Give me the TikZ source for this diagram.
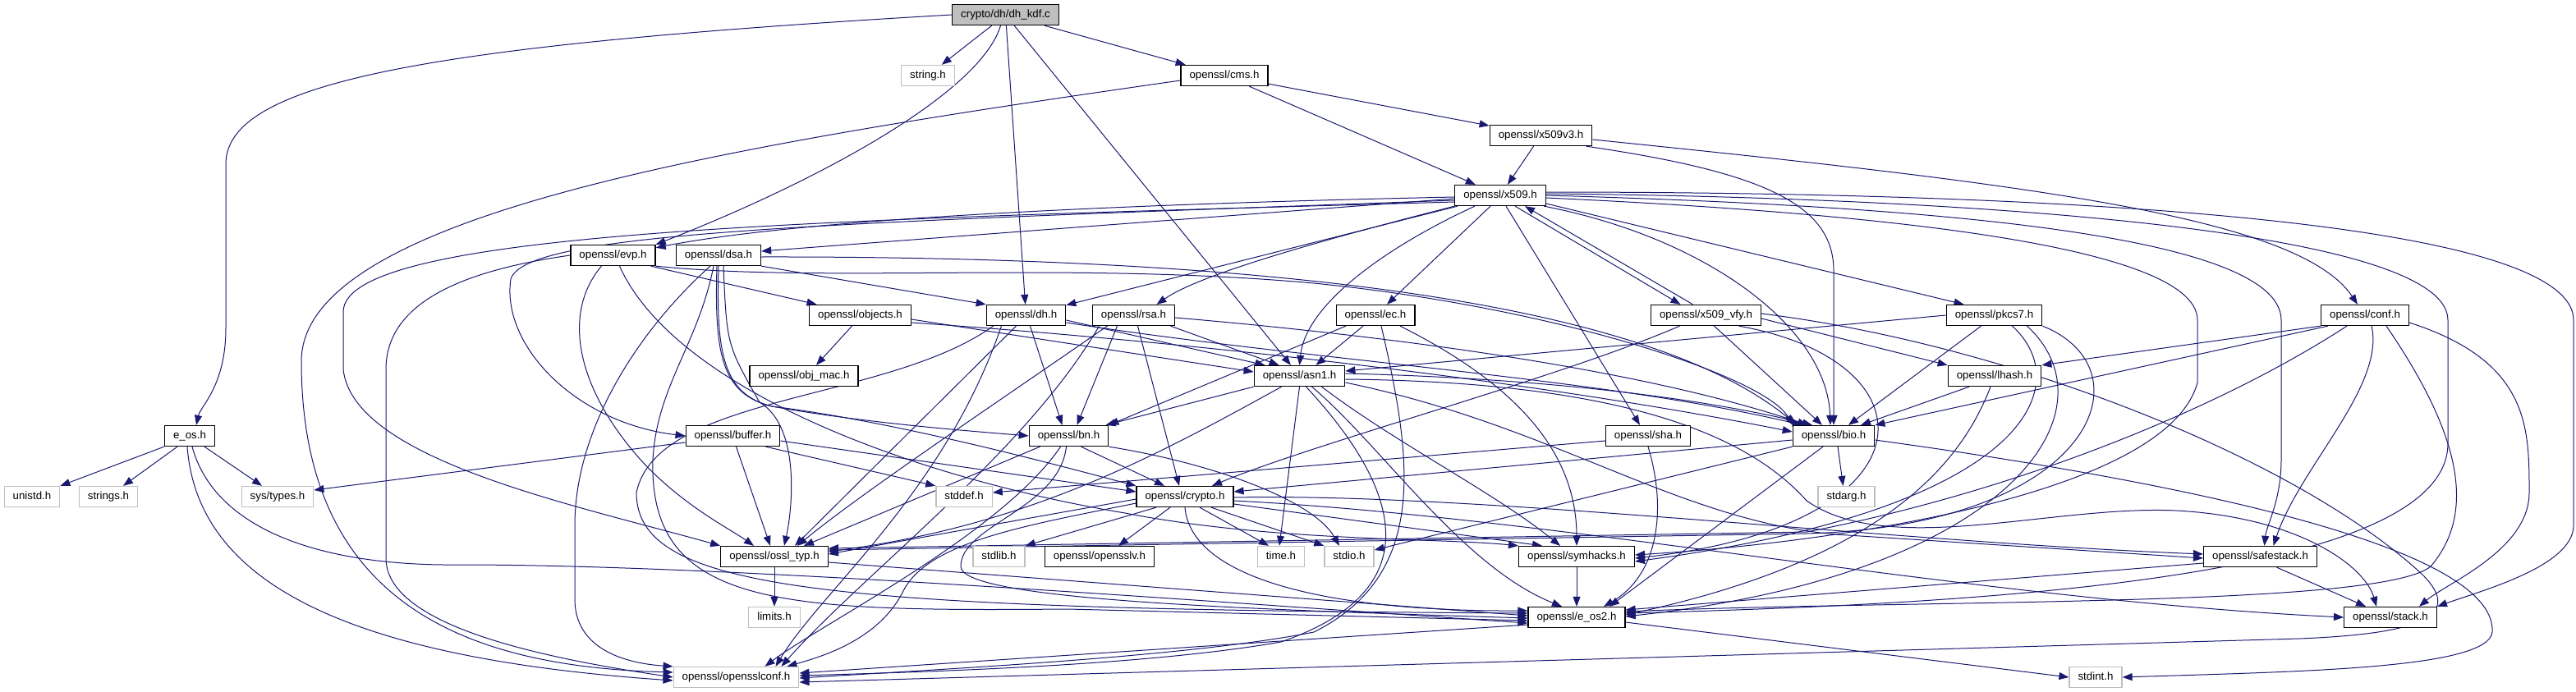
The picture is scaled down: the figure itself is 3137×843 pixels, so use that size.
\documentclass[tikz,border=0pt]{standalone}
\usepackage{fontspec}
\setmainfont{Liberation Sans}
\usetikzlibrary{arrows.meta}
\definecolor{edgeblue}{HTML}{191970}
\definecolor{sysgray}{HTML}{BFBFBF}
\pgfdeclarelayer{bg}
\pgfsetlayers{bg,main}
\tikzset{
  hdr/.style={draw=black, line width=1.3pt, fill=white, minimum height=25pt,
    inner xsep=10.5pt, inner ysep=0pt, text height=9.6pt, text depth=2.8pt,
    font=\fontsize{13.3}{15}\selectfont},
  sys/.style={hdr, draw=sysgray},
  root/.style={hdr, fill=sysgray},
  inc/.style={draw=edgeblue, line width=1pt, -{Triangle[length=12pt,width=9pt]}},
}
\begin{document}
\begin{tikzpicture}[x=1pt, y=-1pt]
  \useasboundingbox (0,0) rectangle (3137,843);
  \node[root] (dhkdf) at (1224.5,18) {crypto/dh/dh\_kdf.c};
  \node[sys] (string) at (1130,92) {string.h};
  \node[hdr] (cms) at (1491,92) {openssl/cms.h};
  \node[hdr] (x509v3) at (1876.5,165) {openssl/x509v3.h};
  \node[hdr] (x509) at (1827,238) {openssl/x509.h};
  \node[hdr] (evp) at (746.5,311) {openssl/evp.h};
  \node[hdr] (dsa) at (875,311) {openssl/dsa.h};
  \node[hdr] (objects) at (1047.5,384) {openssl/objects.h};
  \node[hdr] (dh) at (1249.5,384) {openssl/dh.h};
  \node[hdr] (rsa) at (1380.5,384) {openssl/rsa.h};
  \node[hdr] (ec) at (1675,384) {openssl/ec.h};
  \node[hdr] (x509vfy) at (2077.5,384) {openssl/x509\_vfy.h};
  \node[hdr] (pkcs7) at (2428.5,384) {openssl/pkcs7.h};
  \node[hdr] (conf) at (2880,384) {openssl/conf.h};
  \node[hdr] (objmac) at (979,458) {openssl/obj\_mac.h};
  \node[hdr] (asn1) at (1582.5,458) {openssl/asn1.h};
  \node[hdr] (lhash) at (2429,458) {openssl/lhash.h};
  \node[hdr] (eos) at (231,531) {e\_os.h};
  \node[hdr] (buffer) at (892.5,531) {openssl/buffer.h};
  \node[hdr] (bn) at (1301.5,531) {openssl/bn.h};
  \node[hdr] (sha) at (2007,531) {openssl/sha.h};
  \node[hdr] (bio) at (2233,531) {openssl/bio.h};
  \node[sys] (unistd) at (39,605) {unistd.h};
  \node[sys] (strings) at (132,605) {strings.h};
  \node[sys] (systypes) at (338,605) {sys/types.h};
  \node[sys] (stddef) at (1174,605) {stddef.h};
  \node[hdr] (crypto) at (1443,605) {openssl/crypto.h};
  \node[sys] (stdarg) at (2248.5,605) {stdarg.h};
  \node[hdr] (ossltyp) at (943,678) {openssl/ossl\_typ.h};
  \node[sys] (stdlib) at (1216.5,678) {stdlib.h};
  \node[hdr] (opensslv) at (1339,678) {openssl/opensslv.h};
  \node[sys] (time) at (1560,678) {time.h};
  \node[sys] (stdio) at (1643,678) {stdio.h};
  \node[hdr] (symhacks) at (1920,678) {openssl/symhacks.h};
  \node[hdr] (safestack) at (2752.5,678) {openssl/safestack.h};
  \node[sys] (limits) at (943,752) {limits.h};
  \node[hdr] (eos2) at (1920,752) {openssl/e\_os2.h};
  \node[hdr] (stack) at (2911,752) {openssl/stack.h};
  \node[sys] (osslconf) at (896.5,825) {openssl/opensslconf.h};
  \node[sys] (stdint) at (2552,825) {stdint.h};
  \begin{pgfonlayer}{bg}
  \draw[inc] (dhkdf.west) .. controls (520,55) and (275,100) .. (275,200) -- (275,400) .. controls (275,470) and (244,495) .. ([xshift=8pt]eos.north);
  \draw[inc] (dhkdf) -- (string);
  \draw[inc] ([xshift=-6pt]dhkdf.south) .. controls (1195,110) and (1010,215) .. (evp.north east);
  \draw[inc] (dhkdf) -- (dh);
  \draw[inc] (dhkdf) -- (asn1);
  \draw[inc] (dhkdf) -- (cms);
  \draw[inc] ([yshift=-6pt]cms.west) .. controls (900,175) and (367,260) .. (367,440) .. controls (367,730) and (560,812) .. ([yshift=6pt]osslconf.west);
  \draw[inc] (cms) -- (x509);
  \draw[inc] (cms) -- (x509v3);
  \draw[inc] (x509v3) -- (x509);
  \draw[inc] ([yshift=-5pt]x509v3.east) .. controls (2480,225) and (2800,265) .. ([xshift=-9pt]conf.north);
  \draw[inc] ([xshift=55pt]x509v3.south) .. controls (2150,210) and (2233,250) .. (2233,330) -- (bio.north);
  \draw[inc] ([yshift=-2pt]x509.west) .. controls (1300,250) and (960,270) .. (evp.10);
  \draw[inc] ([yshift=-4pt]x509.west) -- ([yshift=5pt]dsa.east);
  \draw[inc] ([yshift=-6pt]x509.west) .. controls (1000,272) and (640,282) .. (622,340) .. controls (610,420) and (700,515) .. (buffer.west);
  \draw[inc] ([yshift=-8pt]x509.west) .. controls (1000,268) and (418,280) .. (418,380) -- (418,450) .. controls (430,560) and (700,615) .. (ossltyp.north west);
  \draw[inc] (x509) -- (dh);
  \draw[inc] (x509.south west) .. controls (1600,295) and (1460,335) .. ([xshift=28pt]rsa.north);
  \draw[inc] ([xshift=-31pt]x509.south) .. controls (1690,300) and (1590,370) .. (asn1.north);
  \draw[inc] ([xshift=-12pt]x509.south) -- ([xshift=14pt]ec.north);
  \draw[inc] ([xshift=7pt]x509.south) -- ([xshift=-10pt]sha.north);
  \draw[inc] ([xshift=18pt]x509.south) -- ([xshift=-31pt]x509vfy.north);
  \draw[inc] ([xshift=53pt]x509.south) .. controls (2080,290) and (2225,400) .. ([xshift=-4pt]bio.north);
  \draw[inc] ([yshift=-10pt]x509.east) -- ([xshift=-37pt]pkcs7.north);
  \draw[inc] ([yshift=4pt]x509.east) .. controls (2400,234) and (3134,258) .. (3134,390) -- (3134,640) .. controls (3134,690) and (3020,720) .. (stack.north east);
  \draw[inc] ([yshift=2pt]x509.east) .. controls (2350,240) and (2981,275) .. (2981,390) -- (2981,540) .. controls (2981,700) and (2450,735) .. ([yshift=5pt]eos2.east);
  \draw[inc] (x509.east) .. controls (2300,250) and (2778,280) .. (2778,390) -- (2778,560) .. controls (2778,610) and (2760,640) .. ([xshift=5pt]safestack.north);
  \draw[inc] ([yshift=-3pt]x509.east) .. controls (2250,258) and (2676,295) .. (2676,390) -- (2676,466) .. controls (2640,600) and (2250,660) .. ([yshift=2pt]symhacks.east);
  \draw[inc] ([xshift=-16pt]x509vfy.north) -- ([xshift=30pt]x509.south);
  \draw[inc] ([yshift=-4pt]x509vfy.east) -- (lhash.north west);
  \draw[inc] ([xshift=10pt]x509vfy.south) -- ([xshift=-14pt]bio.north);
  \draw[inc] ([xshift=-32pt]x509vfy.south) .. controls (1900,460) and (1600,540) .. ([xshift=33pt]crypto.north);
  \draw[inc] ([xshift=40pt]x509vfy.south) .. controls (2360,440) and (2360,640) .. ([yshift=-2pt]symhacks.east);
  \draw[inc] ([yshift=2pt]x509vfy.east) .. controls (2450,420) and (2800,560) .. (2950,700) .. controls (3000,750) and (2950,772) .. (2800,778) -- ([yshift=-6pt]osslconf.east);
  \draw[inc] (pkcs7.west) -- ([yshift=6pt]asn1.east);
  \draw[inc] ([xshift=-16pt]pkcs7.south) -- ([xshift=18pt]bio.north);
  \draw[inc] ([xshift=22pt]pkcs7.south) .. controls (2530,470) and (2470,620) .. ([yshift=-6pt]symhacks.east);
  \draw[inc] ([xshift=40pt]pkcs7.south) .. controls (2580,500) and (2450,700) .. ([yshift=1pt]eos2.east);
  \draw[inc] (pkcs7.south east) .. controls (2620,450) and (2550,640) .. (2200,650) -- ([yshift=8pt]ossltyp.east);
  \draw[inc] (conf.south west) -- (lhash.north east);
  \draw[inc] ([xshift=-45pt]conf.south) -- (bio.north east);
  \draw[inc] ([xshift=-22pt]conf.south) .. controls (2700,500) and (2450,600) .. (2200,648) -- ([yshift=10pt]ossltyp.east);
  \draw[inc] ([xshift=8pt]conf.south) .. controls (2905,470) and (2800,570) .. ([xshift=16pt]safestack.north);
  \draw[inc] ([xshift=26pt]conf.south) .. controls (2990,520) and (3020,620) .. (2960,690) .. controls (2900,740) and (2350,730) .. ([yshift=7pt]eos2.east);
  \draw[inc] ([yshift=-9pt]conf.east) .. controls (3080,440) and (3080,520) .. (3080,600) .. controls (3080,670) and (2980,710) .. ([xshift=35pt]stack.north);
  \draw[inc] (evp.west) .. controls (560,330) and (470,370) .. (470,450) -- (470,680) .. controls (470,760) and (650,800) .. (osslconf.west);
  \draw[inc] ([xshift=-14pt]evp.south) .. controls (685,380) and (700,470) .. (780,560) .. controls (830,615) and (890,645) .. ([xshift=-25pt]ossltyp.north);
  \draw[inc] ([xshift=8pt]evp.south) .. controls (820,470) and (1100,580) .. (1370,625) .. controls (1550,660) and (1750,655) .. (symhacks.north west);
  \draw[inc] ([xshift=46pt]evp.south) -- ([xshift=-53pt]objects.north);
  \draw[inc] (evp.south east) .. controls (1000,345) and (1300,318) .. (1600,345) .. controls (1900,375) and (2150,460) .. ([xshift=-50pt]bio.north);
  \draw[inc] ([yshift=-2pt]dsa.east) .. controls (1500,312) and (2000,360) .. ([xshift=-45pt]bio.north);
  \draw[inc] (dsa.south east) -- (dh.north west);
  \draw[inc] ([xshift=-6pt]dsa.south) .. controls (850,420) and (800,470) .. (795,560) .. controls (790,740) and (950,745) .. (1300,742) -- ([yshift=-4pt]eos2.west);
  \draw[inc] ([xshift=-2pt]dsa.south) .. controls (870,430) and (878,480) .. (940,495) .. controls (1100,515) and (1300,570) .. (crypto.north west);
  \draw[inc] ([xshift=6pt]dsa.south) .. controls (885,420) .. (925,490) .. controls (975,520) and (965,620) .. ([xshift=12pt]ossltyp.north);
  \draw[inc] ([xshift=-10pt]dsa.south) .. controls (780,400) and (700,520) .. (700,640) -- (700,730) .. controls (700,790) and (760,808) .. (osslconf.north west);
  \draw[inc] (dsa.south) .. controls (872,430) and (880,480) .. (940,495) .. controls (1050,515) and (1180,525) .. (bn.west);
  \draw[inc] ([xshift=-10pt]objects.south) -- ([xshift=15pt]objmac.north);
  \draw[inc] ([yshift=-5pt]objects.east) -- ([yshift=5pt]asn1.west);
  \draw[inc] ([yshift=-9pt]objects.east) .. controls (1500,420) and (1900,470) .. ([yshift=5pt]bio.west);
  \draw[inc] ([xshift=5pt]dh.south) -- ([xshift=-8pt]bn.north);
  \draw[inc] ([yshift=-6pt]dh.east) -- ([xshift=-42pt]asn1.north);
  \draw[inc] ([yshift=-9pt]dh.east) .. controls (1600,440) and (1950,460) .. ([xshift=-38pt]bio.north);
  \draw[inc] ([xshift=-12pt]dh.south) -- ([xshift=25pt]ossltyp.north);
  \draw[inc] ([xshift=-40pt]dh.south) .. controls (1080,490) and (800,480) .. (775,600) .. controls (775,720) and (1000,742) .. ([yshift=5pt]eos2.west);
  \draw[inc] ([xshift=-30pt]dh.south) .. controls (1150,600) and (1000,720) .. ([xshift=48pt]osslconf.north);
  \draw[inc] ([xshift=45pt]rsa.south) -- ([xshift=-25pt]asn1.north);
  \draw[inc] ([yshift=-3pt]rsa.east) .. controls (1700,410) and (2000,450) .. ([xshift=-32pt]bio.north);
  \draw[inc] ([xshift=5pt]rsa.south) -- ([xshift=-7pt]crypto.north);
  \draw[inc] ([xshift=-20pt]rsa.south) -- ([xshift=10pt]bn.north);
  \draw[inc] ([xshift=-32pt]rsa.south) .. controls (1200,500) and (1050,600) .. ([xshift=28pt]ossltyp.north);
  \draw[inc] ([xshift=-42pt]rsa.south) .. controls (1250,550) and (1050,700) .. ([xshift=55pt]osslconf.north);
  \draw[inc] ([xshift=-15pt]ec.south) -- ([xshift=20pt]asn1.north);
  \draw[inc] ([xshift=-36pt]ec.south) -- (bn.north east);
  \draw[inc] ([xshift=30pt]ec.south) .. controls (1830,460) and (1920,540) .. (symhacks.north);
  \draw[inc] ([xshift=7pt]ec.south) .. controls (1720,560) and (1740,700) .. (1600,770) .. controls (1450,800) and (1150,815) .. ([yshift=-1pt]osslconf.east);
  \draw[inc] ([xshift=-35pt]crypto.south) -- (stdlib.north east);
  \draw[inc] ([xshift=-18pt]crypto.south) -- ([xshift=23pt]opensslv.north);
  \draw[inc] ([xshift=18pt]crypto.south) -- ([xshift=-15pt]time.north);
  \draw[inc] ([xshift=32pt]crypto.south) -- (stdio.north west);
  \draw[inc] ([yshift=-9pt]crypto.east) -- ([xshift=-42pt]symhacks.north);
  \draw[inc] ([yshift=-3pt]crypto.west) -- ([yshift=3pt]ossltyp.east);
  \draw[inc] (crypto.south) .. controls (1450,700) and (1600,745) .. ([yshift=8pt]eos2.west);
  \draw[inc] ([yshift=-8pt]crypto.west) .. controls (1250,640) and (1130,660) .. (1100,720) .. controls (1070,780) and (1000,800) .. ([xshift=62pt]osslconf.north);
  \draw[inc] ([yshift=-1pt]crypto.east) .. controls (1800,600) and (2300,660) .. ([yshift=3pt]safestack.west);
  \draw[inc] ([yshift=-5pt]crypto.east) .. controls (1900,630) and (2400,730) .. (stack.west);
  \draw[inc] ([xshift=-13pt]bio.south) -- ([xshift=40pt]eos2.north);
  \draw[inc] (bio.south west) -- ([yshift=8pt]stdio.east);
  \draw[inc] ([xshift=5pt]bio.south) -- ([xshift=-4pt]stdarg.north);
  \draw[inc] ([yshift=-5pt]bio.west) -- ([yshift=6pt]crypto.east);
  \draw[inc] ([yshift=-5pt]bio.east) .. controls (2750,600) and (3040,680) .. (3035,770) .. controls (3030,815) and (2800,818) .. (stdint.east);
  \draw[inc] ([yshift=-6pt]sha.west) -- ([yshift=5pt]stddef.east);
  \draw[inc] (sha.south) .. controls (2030,620) and (2020,700) .. ([xshift=33pt]eos2.north);
  \draw[inc] (asn1.south) -- ([xshift=-2pt]time.north);
  \draw[inc] ([xshift=15pt]asn1.south) .. controls (1680,540) and (1780,690) .. ([xshift=-18pt]eos2.north);
  \draw[inc] ([xshift=8pt]asn1.south) .. controls (1710,600) and (1740,720) .. (1560,782) .. controls (1400,810) and (1150,818) .. ([yshift=2pt]osslconf.east);
  \draw[inc] ([yshift=3pt]asn1.east) .. controls (1850,460) and (2050,480) .. ([xshift=-26pt]bio.north);
  \draw[inc] ([yshift=-4pt]asn1.east) .. controls (1950,465) and (2120,520) .. (2200,610) .. controls (2300,680) and (2500,615) .. (2650,622) .. controls (2800,630) and (2880,690) .. ([xshift=-17pt]stack.north);
  \draw[inc] ([yshift=-8pt]asn1.east) .. controls (1900,520) and (2050,640) .. (2250,652) -- ([yshift=-2pt]safestack.west);
  \draw[inc] ([xshift=27pt]asn1.south) .. controls (1700,540) and (1820,600) .. ([xshift=-20pt]symhacks.north);
  \draw[inc] ([xshift=-22pt]asn1.south) .. controls (1400,560) and (1250,640) .. ([yshift=6pt]ossltyp.east);
  \draw[inc] (asn1.south west) -- ([xshift=45pt]bn.north);
  \draw[inc] ([xshift=15pt]bn.south) -- ([xshift=-25pt]crypto.north);
  \draw[inc] (bn.south east) .. controls (1480,565) and (1600,610) .. ([xshift=-12pt]stdio.north);
  \draw[inc] ([xshift=-35pt]bn.south) -- ([xshift=36pt]ossltyp.north);
  \draw[inc] ([xshift=-10pt]bn.south) .. controls (1220,650) and (1000,760) .. ([xshift=35pt]osslconf.north);
  \draw[inc] ([xshift=-3pt]bn.south) .. controls (1290,620) and (1170,640) .. (1170,690) .. controls (1170,730) and (1500,742) .. ([yshift=-1pt]eos2.west);
  \draw[inc] ([yshift=-8pt]buffer.west) -- ([yshift=8pt]systypes.east);
  \draw[inc] ([xshift=4pt]buffer.south) -- ([xshift=-5pt]ossltyp.north);
  \draw[inc] ([xshift=40pt]buffer.south) -- (stddef.north west);
  \draw[inc] ([yshift=-6pt]buffer.east) -- ([yshift=6pt]crypto.west);
  \draw[inc] (eos.south west) -- (unistd.north east);
  \draw[inc] ([xshift=-15pt]eos.south) -- ([xshift=18pt]strings.north);
  \draw[inc] ([xshift=18pt]eos.south) -- ([xshift=-19pt]systypes.north);
  \draw[inc] ([xshift=3pt]eos.south) .. controls (260,640) and (380,690) .. (560,688) .. controls (900,688) and (1500,735) .. ([yshift=-7pt]eos2.west);
  \draw[inc] ([xshift=-3pt]eos.south) .. controls (240,700) and (400,800) .. ([yshift=-4pt]osslconf.west);
  \draw[inc] (ossltyp) -- (limits);
  \draw[inc] ([yshift=-7pt]ossltyp.east) -- ([yshift=2pt]eos2.west);
  \draw[inc] (symhacks) -- (eos2);
  \draw[inc] ([xshift=20pt]safestack.south) -- ([xshift=-30pt]stack.north);
  \draw[inc] ([yshift=-8pt]safestack.west) -- ([yshift=9pt]eos2.east);
  \draw[inc] ([xshift=-31pt]lhash.south) -- ([xshift=33pt]bio.north);
  \draw[inc] ([xshift=-5pt]lhash.south) .. controls (2390,560) and (2300,680) .. ([yshift=3pt]eos2.east);
  \draw[inc] ([yshift=-9pt]eos2.west) -- ([yshift=5pt]osslconf.east);
  \draw[inc] ([yshift=-6pt]eos2.east) -- (stdint.west);
  \end{pgfonlayer}
\end{tikzpicture}
\end{document}
